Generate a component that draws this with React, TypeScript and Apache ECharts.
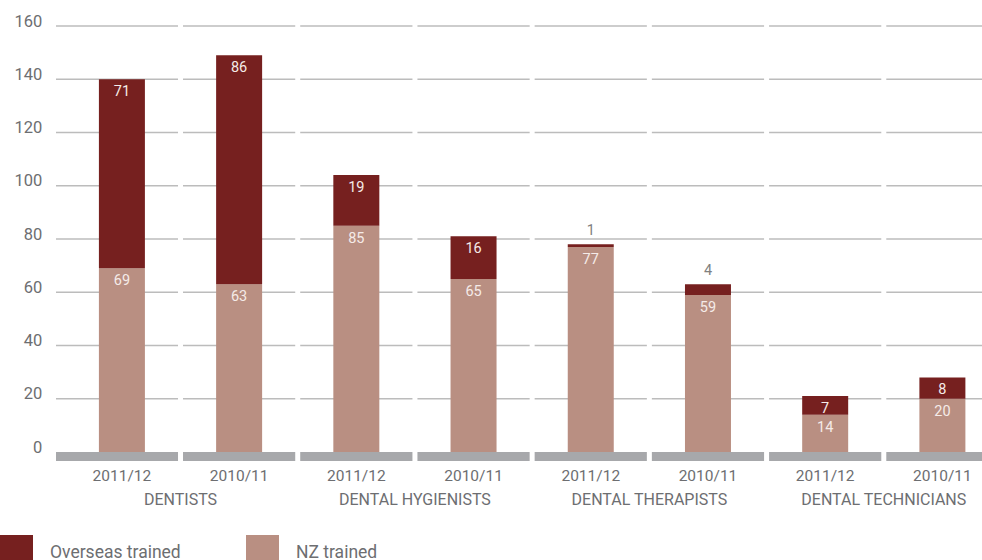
import React, { useEffect, useRef } from "react";
import * as echarts from "echarts";

const categories = ["2011/12", "2010/11", "2011/12", "2010/11", "2011/12", "2010/11", "2011/12", "2010/11"];
const groups = ["DENTISTS", "DENTAL HYGIENISTS", "DENTAL THERAPISTS", "DENTAL TECHNICIANS"];
const nzTrained = [69, 63, 85, 65, 77, 59, 14, 20];
const overseasTrained = [71, 86, 19, 16, 1, 4, 7, 8];
const yTicks = [20, 40, 60, 80, 100, 120, 140, 160];

const DARK = "#76201f";
const LIGHT = "#b98f82";
const TEXT = "#6d6e71";
const FONT = "Roboto, 'Noto Sans', sans-serif";

export default function App() {
  const ref = useRef<HTMLDivElement>(null);
  useEffect(() => {
    if (!ref.current) return;
    const chart = echarts.init(ref.current, null, { renderer: "svg" });
    const insideLabel = {
      show: true,
      position: "insideTop",
      distance: 5,
      color: "#f5ebe8",
      fontSize: 14.5,
      fontFamily: FONT,
    };
    const legendBase = {
      top: 535,
      padding: 0,
      itemWidth: 33,
      itemHeight: 33,
      icon: "rect",
      textStyle: { color: TEXT, fontSize: 17.5, fontFamily: FONT, padding: [0, 0, 0, 12] },
    };
    chart.setOption({
      animation: false,
      textStyle: { fontFamily: FONT },
      grid: { left: 63.3, right: 0, top: 26, height: 426, containLabel: false },
      legend: [
        { ...legendBase, left: 0, data: ["Overseas trained"] },
        { ...legendBase, left: 246, data: ["NZ trained"] },
      ],
      xAxis: [
        {
          type: "category",
          data: categories,
          axisLine: { show: false },
          axisTick: { show: false },
          splitLine: { show: false },
          axisLabel: { color: TEXT, fontSize: 15.5, fontFamily: FONT, margin: 16 },
        },
        {
          type: "category",
          data: groups,
          position: "bottom",
          axisLine: { show: false },
          axisTick: { show: false },
          splitLine: { show: false },
          axisLabel: { color: TEXT, fontSize: 16, fontFamily: FONT, margin: 39 },
        },
      ],
      yAxis: {
        type: "value",
        min: 0,
        max: 160,
        interval: 20,
        axisLine: { show: false },
        axisTick: { show: false },
        splitLine: { show: false },
        axisLabel: {
          color: TEXT,
          fontSize: 16.5,
          fontFamily: FONT,
          margin: 21,
          verticalAlign: "bottom",
          lineHeight: 10,
        },
      },
      series: [
        {
          type: "custom",
          name: "grid",
          z: 1,
          silent: true,
          clip: false,
          data: categories.map((_, i) => [i]),
          encode: { x: 0 },
          renderItem: (params: any, api: any) => {
            const idx = api.value(0);
            const c = api.coord([idx, 0]);
            const w = api.size([1, 0])[0];
            const left = idx === 0 ? 56 : c[0] - w / 2 + 2.5;
            const right = c[0] + w / 2 - 2.5;
            const children: any[] = yTicks.map((v) => {
              const y = api.coord([idx, v])[1];
              return {
                type: "line",
                shape: { x1: left, y1: y, x2: right, y2: y },
                style: { stroke: "#bcbcbc", lineWidth: 1.5 },
              };
            });
            children.push({
              type: "rect",
              shape: { x: left, y: c[1], width: right - left, height: 9 },
              style: { fill: "#a7a8ab" },
            });
            return { type: "group", children };
          },
        },
        {
          type: "bar",
          name: "NZ trained",
          stack: "total",
          z: 2,
          barWidth: 46,
          itemStyle: { color: LIGHT },
          label: insideLabel,
          data: nzTrained,
        },
        {
          type: "bar",
          name: "Overseas trained",
          stack: "total",
          z: 2,
          barWidth: 46,
          itemStyle: { color: DARK },
          label: insideLabel,
          data: overseasTrained.map((v) =>
            v < 5
              ? { value: v, label: { position: "top", distance: 6, color: "#808080" } }
              : v
          ),
        },
      ],
    });
    return () => chart.dispose();
  }, []);
  return (
    <div style={{ width: 982, height: 560, position: "absolute", left: 0, top: 0, overflow: "hidden" }}>
      <div ref={ref} style={{ width: 1001, height: 560 }} />
    </div>
  );
}
